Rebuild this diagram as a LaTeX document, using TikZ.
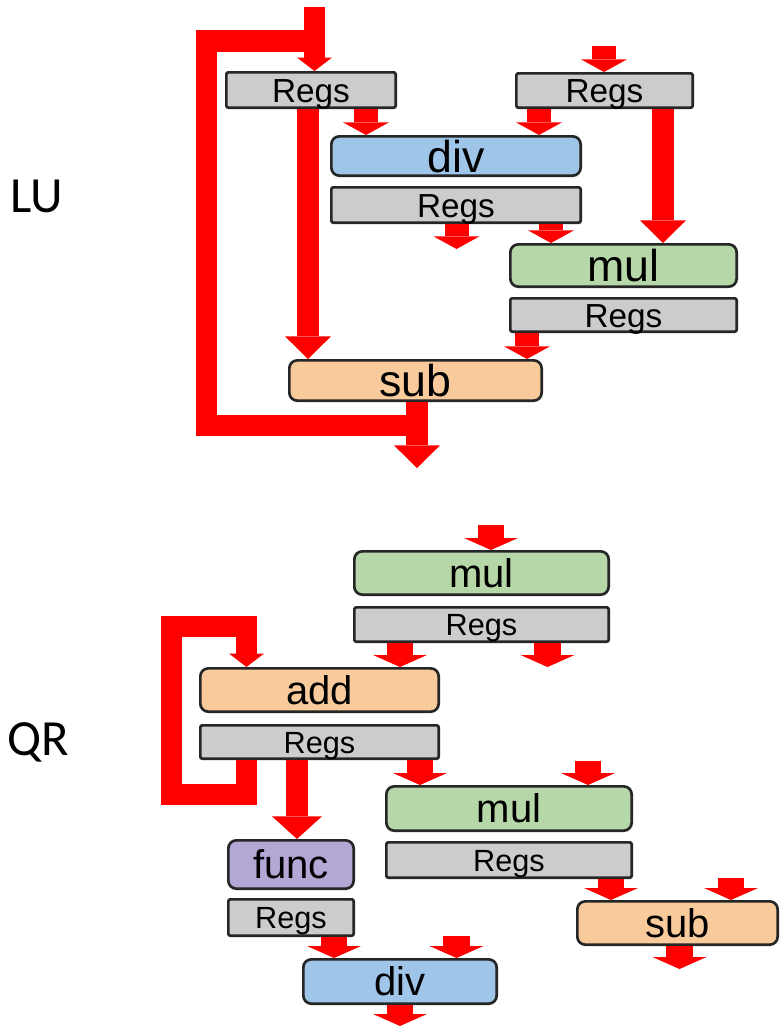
\documentclass[tikz,border=0pt]{standalone}
\usepackage{fontspec}
\setmainfont{Liberation Sans}
\newfontfamily\labelfont{Carlito}
\usetikzlibrary{arrows.meta}
\definecolor{regsgray}{HTML}{CCCCCC}
\definecolor{divblue}{HTML}{9FC5E8}
\definecolor{mulgreen}{HTML}{B6D7A8}
\definecolor{suborange}{HTML}{F9CB9C}
\definecolor{funcpurple}{HTML}{B4A7D6}

\begin{document}
\begin{tikzpicture}[x=0.75pt,y=-0.75pt,
    dims/.style 2 args={minimum width=#1*0.75pt-2pt,minimum height=#2*0.75pt-2pt},
    unit/.style={draw=black!85,line width=2pt,rounded corners=6pt,inner sep=0pt,
                 text depth=0pt,fill=#1},
    alu/.style={unit=#1,font=\fontsize{33.5}{34}\selectfont,text height=24pt},
    reg/.style={unit=regsgray,rounded corners=1.5pt,font=\fontsize{25}{26}\selectfont,text height=18pt},
    qalu/.style={alu=#1,font=\fontsize{30}{31}\selectfont,text height=21.5pt},
    qreg/.style={reg,font=\fontsize{23}{24}\selectfont,text height=16.5pt},
    lab/.style={font=\labelfont\fontsize{38}{40}\selectfont},
    fl/.style={red,line width=18pt,-{Triangle[width=34.5pt,length=9.5pt,line width=0pt]}},
    fll/.style={red,line width=16.5pt,-{Triangle[width=34.5pt,length=17pt,line width=0pt]}},
    fq/.style={red,line width=20pt,-{Triangle[width=40.5pt,length=9pt,line width=0pt]}},
    fqlong/.style={red,line width=16.5pt,-{Triangle[width=37.5pt,length=17pt,line width=0pt]}},
    back/.style={red,line width=16pt,line join=miter},
    backin/.style={back,-{Triangle[width=26pt,length=10pt,line width=0pt]}}]
  \fill[white] (0,0) rectangle (783,1026);
  \useasboundingbox (0,0) rectangle (783,1026);

  % LU pipeline
  \node[lab] (lu) at (37,196) {LU};
  \node[reg,dims={172}{38}] (r1) at (311,90) {Regs};
  \node[reg,dims={179}{37}] (r2) at (604.5,90.5) {Regs};
  \node[alu=divblue,dims={252}{42}] (div1) at (456,156) {div};
  \node[reg,dims={252}{38}] (r3) at (456,205) {Regs};
  \node[alu=mulgreen,dims={229}{45}] (mul1) at (623.5,265.5) {mul};
  \node[reg,dims={229}{36}] (r4) at (623.5,315) {Regs};
  \node[alu=suborange,dims={255}{43}] (sub1) at (415.5,380.5) {sub};

  \coordinate (inA) at (314.5,7);
  \coordinate (inB) at (604,46);
  \coordinate (outA) at (456.5,249);
  \coordinate (outB) at (417,468);

  \draw[fl] (inB) -- (inB |- r2.north);
  \draw[fl] (366,0 |- r1.south) -- (366,0 |- div1.north);
  \draw[fl] (539,0 |- r2.south) -- (539,0 |- div1.north);
  \draw[fll] (308,0 |- r1.south) -- (308,0 |- sub1.north);
  \draw[fll] (663,0 |- r2.south) -- (663,0 |- mul1.north);
  \draw[fl] (outA |- r3.south) -- (outA);
  \draw[fl] (551,0 |- r3.south) -- (551,0 |- mul1.north);
  \draw[fl] (527,0 |- r4.south) -- (527,0 |- sub1.north);
  \draw[fll] (outB |- sub1.south) -- (outB);
  % result fed back to the first register
  \draw[back] (outB |- 0,425.5) -| (206.5,41) -- (inA |- 0,41);
  \draw[backin] (inA) -- (inA |- r1.north);

  % QR pipeline
  \node[lab] (qr) at (38,742) {QR};
  \node[qalu=mulgreen,dims={257}{46}] (mul2) at (481.5,573) {mul};
  \node[qreg,dims={257}{37}] (r5) at (481.5,624.5) {Regs};
  \node[qalu=suborange,dims={241}{46}] (add) at (319.5,690) {add};
  \node[qreg,dims={241}{36}] (r6) at (319.5,742) {Regs};
  \node[qalu=mulgreen,dims={248}{47}] (mul3) at (509,808.5) {mul};
  \node[qreg,dims={248}{38}] (r7) at (509,860) {Regs};
  \node[qalu=funcpurple,dims={128}{51}] (func) at (291,864.5) {func};
  \node[qreg,dims={128}{39}] (r8) at (291,917.5) {Regs};
  \node[qalu=suborange,dims={203}{46}] (sub2) at (677.5,923) {sub};
  \node[qalu=divblue,dims={196}{47}] (div2) at (400,981.5) {div};

  \coordinate (inC) at (491,525);
  \coordinate (outC) at (547.5,667);
  \coordinate (inD) at (588,761);
  \coordinate (inE) at (731,878);
  \coordinate (inF) at (456.5,936);
  \coordinate (outD) at (679.5,969);
  \coordinate (outE) at (400,1026);

  \draw[fq] (inC) -- (inC |- mul2.north);
  \draw[fq] (400,0 |- r5.south) -- (400,0 |- add.north);
  \draw[fq] (outC |- r5.south) -- (outC);
  % accumulator loop around add
  \draw[backin] (246.5,0 |- r6.south) |- (171.5,794.5) |- (246.5,626.5) -- (246.5,0 |- add.north);
  \draw[fqlong] (297,0 |- r6.south) -- (297,0 |- func.north);
  \draw[fq] (420,0 |- r6.south) -- (420,0 |- mul3.north);
  \draw[fq] (inD) -- (inD |- mul3.north);
  \draw[fq] (611,0 |- r7.south) -- (611,0 |- sub2.north);
  \draw[fq] (inE) -- (inE |- sub2.north);
  \draw[fq] (outD |- sub2.south) -- (outD);
  \draw[fq] (334,0 |- r8.south) -- (334,0 |- div2.north);
  \draw[fq] (inF) -- (inF |- div2.north);
  \draw[fq] (outE |- div2.south) -- (outE);
\end{tikzpicture}
\end{document}
